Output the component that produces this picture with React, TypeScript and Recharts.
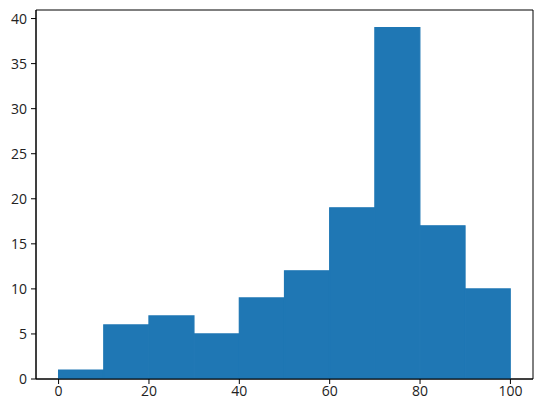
import { BarChart, Bar, XAxis, YAxis, ReferenceArea } from 'recharts';

const binStarts = [0, 10, 20, 30, 40, 50, 60, 70, 80, 90];
const binWidth = 10;
const counts = [1, 6, 7, 5, 9, 12, 19, 39, 17, 10];
const xTicks = [0, 20, 40, 60, 80, 100];
const yTicks = [0, 5, 10, 15, 20, 25, 30, 35, 40];
const xDomain = [-5, 105];
const yDomain = [0, 40.95];

const data = binStarts.map((s, i) => ({ mid: s + binWidth / 2, count: counts[i] }));

const font = { fontFamily: 'Open Sans', fontSize: 14, fill: '#222' };

export default function App() {
  return (
    <div style={{ position: 'absolute', left: 0, top: 0, background: '#fff' }}>
      <BarChart
        width={542}
        height={412}
        data={data}
        margin={{ top: 10, right: 9, bottom: 0, left: 0 }}
        barCategoryGap={0}
        barGap={0}
      >
        <XAxis
          dataKey="mid"
          type="number"
          domain={xDomain}
          ticks={xTicks}
          allowDataOverflow
          height={33}
          tickSize={5}
          tickMargin={2}
          stroke="#000"
          tick={font}
          tickLine={{ stroke: '#000' }}
          axisLine={{ stroke: '#000' }}
        />
        <YAxis
          type="number"
          domain={yDomain}
          ticks={yTicks}
          allowDataOverflow
          width={36}
          tickSize={5}
          tickMargin={4}
          stroke="#000"
          tick={font}
          tickLine={{ stroke: '#000' }}
          axisLine={{ stroke: '#000' }}
        />
        <Bar dataKey="count" fill="#1f77b4" stroke="#1f77b4" strokeWidth={1.2} isAnimationActive={false} />
        <ReferenceArea
          x1={xDomain[0]}
          x2={xDomain[1]}
          y1={yDomain[0]}
          y2={yDomain[1]}
          fill="none"
          fillOpacity={0}
          stroke="#000"
          strokeWidth={1}
          ifOverflow="visible"
        />
      </BarChart>
    </div>
  );
}
